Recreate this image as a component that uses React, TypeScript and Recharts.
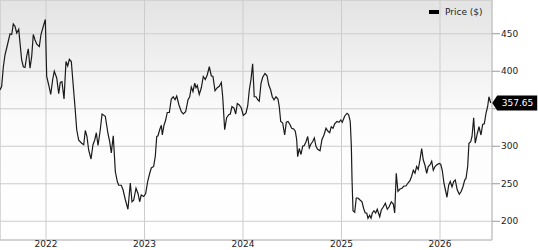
import React from "react";
import {
  LineChart,
  Line,
  XAxis,
  YAxis,
  CartesianGrid,
  Legend,
  ReferenceArea,
  ReferenceDot,
} from "recharts";

// time expressed as fractional years
const dates: number[] = [
  2021.533, 2021.55, 2021.567, 2021.584, 2021.601, 2021.617, 2021.635, 2021.652, 2021.668, 2021.685,
  2021.703, 2021.723, 2021.736, 2021.753, 2021.77, 2021.787, 2021.804, 2021.82, 2021.838, 2021.855,
  2021.871, 2021.888, 2021.906, 2021.932, 2021.949, 2021.973, 2021.993, 2022.007, 2022.027, 2022.048,
  2022.068, 2022.084, 2022.109, 2022.129, 2022.145, 2022.162, 2022.183, 2022.203, 2022.22, 2022.237,
  2022.257, 2022.277, 2022.294, 2022.312, 2022.332, 2022.362, 2022.383, 2022.399, 2022.416, 2022.433,
  2022.457, 2022.477, 2022.494, 2022.511, 2022.528, 2022.551, 2022.569, 2022.602, 2022.629, 2022.647,
  2022.663, 2022.683, 2022.704, 2022.724, 2022.738, 2022.764, 2022.782, 2022.805, 2022.832, 2022.856,
  2022.873, 2022.89, 2022.914, 2022.934, 2022.951, 2022.967, 2022.992, 2023.012, 2023.032, 2023.053,
  2023.069, 2023.093, 2023.11, 2023.124, 2023.137, 2023.154, 2023.171, 2023.181, 2023.198, 2023.215,
  2023.231, 2023.252, 2023.272, 2023.292, 2023.31, 2023.327, 2023.35, 2023.374, 2023.394, 2023.418,
  2023.442, 2023.459, 2023.475, 2023.492, 2023.51, 2023.523, 2023.536, 2023.556, 2023.577, 2023.597,
  2023.617, 2023.637, 2023.658, 2023.678, 2023.695, 2023.716, 2023.739, 2023.759, 2023.78, 2023.794,
  2023.814, 2023.834, 2023.855, 2023.871, 2023.888, 2023.909, 2023.926, 2023.942, 2023.962, 2023.983,
  2024.003, 2024.03, 2024.048, 2024.064, 2024.081, 2024.098, 2024.114, 2024.132, 2024.149, 2024.165,
  2024.183, 2024.2, 2024.223, 2024.244, 2024.261, 2024.281, 2024.297, 2024.315, 2024.335, 2024.355,
  2024.368, 2024.383, 2024.403, 2024.423, 2024.44, 2024.457, 2024.477, 2024.494, 2024.515, 2024.531,
  2024.545, 2024.555, 2024.571, 2024.589, 2024.606, 2024.622, 2024.64, 2024.657, 2024.673, 2024.69,
  2024.707, 2024.724, 2024.741, 2024.758, 2024.782, 2024.802, 2024.822, 2024.843, 2024.863, 2024.88,
  2024.896, 2024.914, 2024.931, 2024.954, 2024.975, 2024.992, 2025.008, 2025.032, 2025.056, 2025.073,
  2025.089, 2025.1, 2025.107, 2025.117, 2025.134, 2025.15, 2025.167, 2025.191, 2025.208, 2025.225,
  2025.241, 2025.256, 2025.269, 2025.286, 2025.3, 2025.313, 2025.33, 2025.347, 2025.363, 2025.388,
  2025.404, 2025.424, 2025.445, 2025.465, 2025.482, 2025.506, 2025.526, 2025.54, 2025.556, 2025.573,
  2025.594, 2025.614, 2025.634, 2025.655, 2025.675, 2025.695, 2025.712, 2025.729, 2025.746, 2025.763,
  2025.779, 2025.797, 2025.814, 2025.83, 2025.847, 2025.865, 2025.881, 2025.898, 2025.916, 2025.932,
  2025.949, 2025.966, 2025.99, 2026.007, 2026.023, 2026.04, 2026.058, 2026.071, 2026.088, 2026.104,
  2026.122, 2026.139, 2026.155, 2026.175, 2026.196, 2026.216, 2026.233, 2026.251, 2026.264, 2026.281,
  2026.294, 2026.312, 2026.325, 2026.342, 2026.358, 2026.379, 2026.396, 2026.416, 2026.433, 2026.45,
  2026.467, 2026.484, 2026.497, 2026.515,
];

const prices: number[] = [
  375, 380, 406, 422, 431, 440, 450, 449, 463, 460,
  451, 456, 438, 415, 406, 405, 420, 430, 404, 420,
  449, 442, 436, 433, 449, 460, 469, 393, 382, 369,
  389, 400, 391, 370, 385, 386, 363, 413, 407, 416,
  413, 380, 353, 322, 308, 304, 302, 321, 313, 295,
  283, 302, 308, 318, 301, 322, 343, 340, 317, 306,
  291, 314, 266, 253, 248, 248, 242, 229, 216, 251,
  226, 228, 244, 237, 226, 235, 233, 237, 253, 264,
  271, 273, 287, 313, 314, 322, 328, 315, 328, 335,
  345, 345, 363, 366, 362, 367, 355, 346, 343, 346,
  362, 366, 379, 373, 384, 378, 381, 369, 378, 393,
  389, 395, 406, 394, 393, 374, 378, 380, 385, 366,
  322, 338, 342, 343, 353, 351, 343, 357, 355, 351,
  341, 344, 354, 375, 389, 410, 366, 366, 362, 360,
  384, 392, 397, 394, 382, 375, 366, 362, 366, 363,
  353, 333, 331, 315, 332, 333, 329, 324, 323, 320,
  309, 286, 297, 289, 300, 301, 306, 313, 298, 303,
  306, 311, 300, 296, 294, 309, 315, 324, 320, 318,
  326, 324, 330, 333, 332, 335, 332, 340, 344, 342,
  333, 300, 255, 214, 212, 231, 231, 228, 226, 217,
  211, 211, 204, 208, 204, 211, 214, 211, 216, 206,
  215, 219, 224, 216, 219, 226, 223, 211, 264, 240,
  243, 244, 247, 247, 251, 254, 260, 268, 264, 273,
  269, 282, 297, 282, 275, 264, 273, 275, 280, 268,
  273, 275, 277, 276, 268, 251, 240, 232, 248, 253,
  246, 253, 255, 242, 236, 240, 246, 255, 257, 273,
  304, 306, 313, 338, 304, 317, 326, 315, 329, 330,
  344, 353, 366, 357.65,
];

const yearTicks: number[] = [2022, 2023, 2024, 2025, 2026];
const priceTicks: number[] = [200, 250, 300, 350, 400, 450];
const hiddenPriceTick = 350; // covered by the last-price tag in the reference
const seriesName = "Price ($)";

const X_DOMAIN: [number, number] = [2021.533, 2026.528];
const Y_DOMAIN: [number, number] = [175, 495];

const data = dates.map((t, i) => ({ t, price: prices[i] }));
const lastPoint = data[data.length - 1];

const FONT = "'DejaVu Sans', 'Liberation Sans', Arial, sans-serif";

const renderLegend = () => (
  <div
    style={{
      display: "flex",
      alignItems: "center",
      fontFamily: FONT,
      fontSize: 9,
      color: "#222",
      whiteSpace: "nowrap",
      lineHeight: "10px",
    }}
  >
    <span
      style={{
        display: "inline-block",
        width: 10,
        height: 4,
        background: "#000",
        marginRight: 6,
      }}
    />
    <span>{seriesName}</span>
  </div>
);

const LastLabel = (props: any) => {
  const { cx, cy } = props;
  if (cx == null || cy == null) return null;
  const tip = cx + 1.5;
  const h = 7.5;
  const left = tip + 5;
  const right = tip + 45;
  const d = `M${tip},${cy} L${left},${cy - h} L${right},${cy - h} L${right},${cy + h} L${left},${cy + h} Z`;
  return (
    <g>
      <path d={d} fill="#000" />
      <text x={left + 4.5} y={cy + 3.3} fill="#fff" fontSize={9} fontFamily={FONT}>
        {lastPoint.price.toFixed(2)}
      </text>
    </g>
  );
};

export default function App() {
  return (
    <div style={{ position: "absolute", left: 0, top: 0, width: 538, height: 250 }}>
      <LineChart
        width={538}
        height={250}
        data={data}
        margin={{ top: 0, right: 0, bottom: 0, left: 0 }}
      >
        <defs>
          <linearGradient id="bgGrad" x1="0" y1="0" x2="0" y2="1">
            <stop offset="0%" stopColor="#e3e3e3" />
            <stop offset="50%" stopColor="#fcfcfc" />
            <stop offset="100%" stopColor="#ffffff" />
          </linearGradient>
        </defs>
        <CartesianGrid stroke="#cccccc" fill="url(#bgGrad)" strokeWidth={1} />
        <XAxis
          dataKey="t"
          type="number"
          domain={X_DOMAIN}
          ticks={yearTicks}
          allowDataOverflow
          height={10}
          tickLine={false}
          tickSize={0}
          tickMargin={1}
          axisLine={{ stroke: "#cccccc" }}
          tick={{ fill: "#222", fontSize: 9, fontFamily: FONT }}
          tickFormatter={(v: number) => String(Math.round(v))}
        />
        <YAxis
          orientation="right"
          type="number"
          domain={Y_DOMAIN}
          ticks={priceTicks}
          allowDataOverflow
          width={46}
          tickSize={8}
          tickMargin={1}
          tickLine={{ stroke: "#999999" }}
          axisLine={{ stroke: "#cccccc" }}
          tick={{ fill: "#222", fontSize: 9, fontFamily: FONT }}
          tickFormatter={(v: number) => (v === hiddenPriceTick ? "" : String(v))}
        />
        <ReferenceArea
          x1={X_DOMAIN[0]}
          x2={X_DOMAIN[1]}
          y1={Y_DOMAIN[0]}
          y2={Y_DOMAIN[1]}
          fill="none"
          stroke="#cccccc"
          ifOverflow="visible"
        />
        <Legend
          layout="horizontal"
          verticalAlign="middle"
          align="center"
          content={renderLegend}
          wrapperStyle={{ position: "absolute", top: 7, left: 429, width: 80, height: 10 }}
        />
        <Line
          type="linear"
          dataKey="price"
          name={seriesName}
          stroke="#1a1a1a"
          strokeWidth={1.2}
          dot={false}
          activeDot={false}
          isAnimationActive={false}
        />
        <ReferenceDot
          x={lastPoint.t}
          y={lastPoint.price}
          ifOverflow="visible"
          shape={LastLabel}
        />
      </LineChart>
    </div>
  );
}
